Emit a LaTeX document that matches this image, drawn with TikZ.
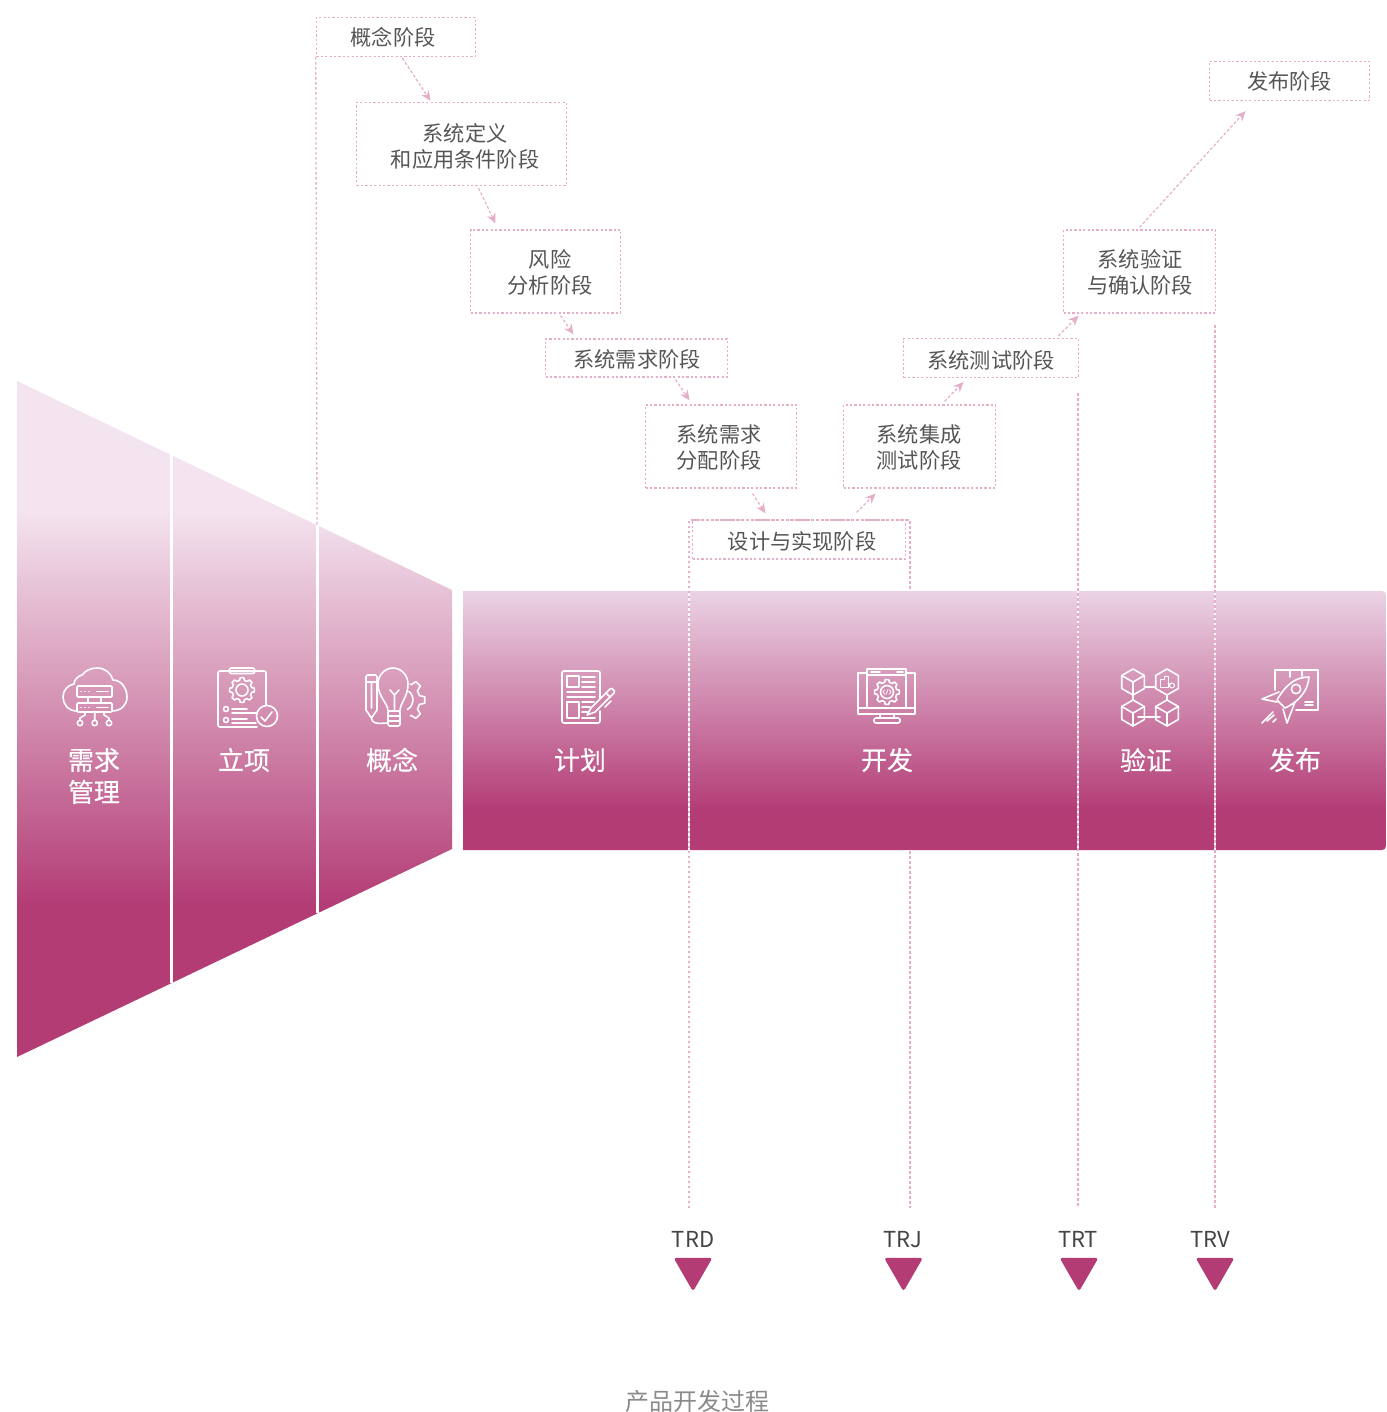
\documentclass[tikz,border=0pt]{standalone}
\usepackage{fontspec}
\setmainfont{Noto Sans CJK SC}
\newfontfamily\phasefont[FakeBold=0.35]{Noto Sans CJK SC}
\usetikzlibrary{arrows.meta,shapes.geometric}
\definecolor{dashc}{HTML}{E5AFC9}
\definecolor{dark}{HTML}{B33C75}
\definecolor{txt}{HTML}{555555}
\definecolor{trtxt}{HTML}{444444}
\definecolor{capt}{HTML}{8A8A8A}
\definecolor{flight}{HTML}{F4E4EF}
\definecolor{blight}{HTML}{EBD3E5}
\pgfdeclareverticalshading{funnelsh}{100bp}{color(0bp)=(dark); color(36.24bp)=(dark); color(65.46bp)=(flight); color(100bp)=(flight)}
\pgfdeclareverticalshading{barsh}{100bp}{color(0bp)=(dark); color(32.7bp)=(dark); color(75bp)=(blight); color(100bp)=(blight)}
\tikzset{
  dbox/.style={draw=dashc,line width=1.2pt,dash pattern=on 2.2pt off 2.2pt,inner sep=0pt},
  boxtext/.style={text=txt,font=\fontsize{21.2}{26}\selectfont,align=center,inner sep=0pt},
  phase/.style={text=white,font=\phasefont\fontsize{26}{32}\selectfont,align=center,inner sep=0pt},
  conn/.style={draw=dashc,line width=1.2pt,dash pattern=on 3pt off 2pt,-{Stealth[length=10pt,width=9pt]}},
  guide/.style={draw=dashc,line width=1.3pt,dash pattern=on 2.5pt off 2.5pt},
  gapline/.style={draw=white,line width=2.6pt},
  sepline/.style={draw=white,line width=3pt},
  icn/.style={draw=white,line width=1.6pt,line join=round,line cap=round},
  tri/.style={regular polygon,regular polygon sides=3,shape border rotate=180,minimum size=45pt,inner sep=0pt,fill=dark,rounded corners=3pt},
  trlabel/.style={text=trtxt,font=\fontsize{22}{26}\selectfont,inner sep=0pt,anchor=base},
  captext/.style={text=capt,font=\fontsize{24}{28}\selectfont,inner sep=0pt}
}
\newcommand{\geardraw}[4]{%
  \begin{scope}[shift={(#1,#2)}]
    \draw[icn] (-14:#4) \foreach \a in {0,45,...,315} {-- (\a-14:#4) -- (\a-8:#3) -- (\a+8:#3) -- (\a+14:#4)} -- cycle;
  \end{scope}}
\begin{document}
\begin{tikzpicture}[x=1pt,y=-1pt]
\useasboundingbox (0,0) rectangle (1386,1412);
% funnel and bar
\path[shading=funnelsh] (17,381) -- (452,590) -- (452,849) -- (17,1057) -- cycle;
\path[shading=barsh] (463,591) -- (1382,591) [rounded corners=4pt] -- (1386,591) -- (1386,850) [sharp corners] -- (463,850) -- cycle;
\coordinate (fa) at (171,455); \coordinate (fb) at (171,983);
\coordinate (fc) at (317,525); \coordinate (fd) at (317,913);
\draw[sepline] (fa) -- (fb);
\draw[sepline] (fc) -- (fd);
% boxes
\node[dbox,minimum width=159pt,minimum height=39pt] (concept) at (395.9,37) {};
\node[dbox,minimum width=210pt,minimum height=83pt] (sysdef) at (461.5,144) {};
\node[dbox,minimum width=150pt,minimum height=83pt] (risk) at (545.5,271.5) {};
\node[dbox,minimum width=182pt,minimum height=38pt] (sysreq) at (636.5,358) {};
\node[dbox,minimum width=151pt,minimum height=83pt] (alloc) at (721,446.5) {};
\node[dbox,minimum width=213pt,minimum height=39pt] (design) at (799,539.5) {};
\node[dbox,minimum width=152pt,minimum height=83pt] (integ) at (919.5,446.5) {};
\node[dbox,minimum width=175pt,minimum height=39pt] (systest) at (991,358) {};
\node[dbox,minimum width=152pt,minimum height=83pt] (valid) at (1139.5,271.5) {};
\node[dbox,minimum width=160pt,minimum height=39pt] (release) at (1289.5,81) {};
\node[boxtext] (tconcept) at (393,37) {概念阶段};
\node[boxtext] (tsysdef) at (465,146) {系统定义\\和应用条件阶段};
\node[boxtext] (trisk) at (550,272) {风险\\分析阶段};
\node[boxtext] (tsysreq) at (637,359) {系统需求阶段};
\node[boxtext] (talloc) at (719,447.5) {系统需求\\分配阶段};
\node[boxtext] (tdesign) at (802,541) {设计与实现阶段};
\node[boxtext] (tinteg) at (919,447.5) {系统集成\\测试阶段};
\node[boxtext] (tsystest) at (991,360) {系统测试阶段};
\node[boxtext] (tvalid) at (1140,272) {系统验证\\与确认阶段};
\node[boxtext] (trelease) at (1289.5,81) {发布阶段};
% connectors
\draw[conn] ([shift={(6.5,1)}]concept.south) -- ([shift={(-31,-1)}]sysdef.north);
\draw[conn] ([shift={(17,2)}]sysdef.south) -- ([shift={(-50,-6)}]risk.north);
\draw[conn] ([shift={(15,2)}]risk.south) -- ([shift={(-63,-4)}]sysreq.north);
\draw[conn] ([shift={(39,2)}]sysreq.south) -- ([shift={(-31.5,-4)}]alloc.north);
\draw[conn] ([shift={(31.5,5)}]alloc.south) -- ([shift={(-33.5,-6)}]design.north);
\draw[conn] ([shift={(57.5,-7)}]design.north) -- ([shift={(-44,5)}]integ.south);
\draw[conn] ([shift={(25,-3)}]integ.north) -- ([shift={(-27.5,4)}]systest.south);
\draw[conn] ([shift={(67.5,-2)}]systest.north) -- ([shift={(-61,2)}]valid.south);
\draw[conn] ([shift={(0,-2)}]valid.north) -- ([shift={(-44,10)}]release.south);
% guides
\coordinate (g1t) at (689,520); \coordinate (g1a) at (689,591); \coordinate (g1b) at (689,850); \coordinate (g1e) at (689,1208);
\coordinate (g2t) at (910,520); \coordinate (g2a) at (910,590); \coordinate (g2b) at (910,851); \coordinate (g2e) at (910,1208);
\coordinate (g3t) at (1078,393); \coordinate (g3a) at (1078,591); \coordinate (g3b) at (1078,850); \coordinate (g3e) at (1078,1208);
\coordinate (g4t) at (1215,325); \coordinate (g4a) at (1215,591); \coordinate (g4b) at (1215,850); \coordinate (g4e) at (1215,1208);
\draw[gapline] (g1a) -- (g1b);
\draw[gapline] (g3a) -- (g3b);
\draw[gapline] (g4a) -- (g4b);
\draw[guide] (concept.south west) -- (fc);
\draw[guide] (g1e) -- (g1t) -- (g2t) -- (g2a);
\draw[guide] (g2b) -- (g2e);
\draw[guide] (g3t) -- (g3e);
\draw[guide] (g4t) -- (g4e);
% phase labels
\node[phase] (p1) at (94,776) {需求\\管理};
\node[phase] (p2) at (244,760) {立项};
\node[phase] (p3) at (392,760) {概念};
\node[phase] (p4) at (580,760) {计划};
\node[phase] (p5) at (887,760) {开发};
\node[phase] (p6) at (1146,760) {验证};
\node[phase] (p7) at (1295,760) {发布};
% icon 1: cloud and servers
\draw[icn] (77,711) .. controls (68,711) and (63,704) .. (63,697) .. controls (63,690) and (68,685) .. (74,684) .. controls (74,680) and (78,676) .. (82,675) .. controls (85,671) and (90,668) .. (97,668) .. controls (105,668) and (111,673) .. (113,680) .. controls (121,680) and (127,688) .. (127,697) .. controls (127,705) and (121,711) .. (112,711);
\draw[icn,rounded corners=1pt] (77,686) rectangle (112,697);
\draw[icn,rounded corners=1pt] (77,703) rectangle (112,712);
\draw[icn] (88,697) -- (88,703) (101,697) -- (101,703);
\draw[icn] (81,691.5) -- (81.2,691.5) (85,691.5) -- (85.2,691.5) (89,691.5) -- (89.2,691.5) (97,691.5) -- (108,691.5);
\draw[icn] (81,707.5) -- (81.2,707.5) (85,707.5) -- (85.2,707.5) (89,707.5) -- (89.2,707.5) (97,707.5) -- (108,707.5);
\draw[icn] (94.7,712) -- (94.7,720) (85,712) -- (85,715) -- (80,718) -- (80,720) (104,712) -- (104,715) -- (109,718) -- (109,720);
\draw[icn] (80,723) circle (2.7) (94.7,723) circle (2.7) (109,723) circle (2.7);
% icon 2: clipboard
\draw[icn,rounded corners=2pt] (257,727) -- (218,727) -- (218,671) -- (266,671) -- (266,705);
\draw[icn,fill=none,rounded corners=2.5pt] (229,668) rectangle (255,673.5);
\geardraw{242}{690}{12.5}{10}
\draw[icn] (242,690) circle (6);
\draw[icn] (226,709) circle (2.5) (226,720) circle (2.5);
\draw[icn] (232,709) -- (247,709) (232,713) -- (256,713) (232,719) -- (247,719) (232,723) -- (256,723);
\draw[icn] (267,716) circle (10.5);
\draw[icn] (261,717) -- (265,721) -- (272,712);
% icon 3: bulb, pencil, gear
\draw[icn] (388,711) .. controls (388,703) and (378,697) .. (378,684) .. controls (378,675) and (385,668) .. (393,668) .. controls (401,668) and (408,675) .. (408,684) .. controls (408,697) and (400,703) .. (400,711);
\draw[icn,rounded corners=1.5pt] (388,711) rectangle (400,726);
\draw[icn] (388,716) -- (400,716) (388,721) -- (400,721);
\draw[icn] (390,690) -- (394.5,695) -- (399,690) (394.5,695) -- (394.5,711);
\draw[icn,rounded corners=1.5pt] (366,710) -- (366,675) -- (377,675) -- (377,710);
\draw[icn] (366,682) -- (377,682) (371.5,682) -- (371.5,708) (366,710) -- (371.5,718) -- (377,710);
\draw[icn] (371.5,718) .. controls (372,723) and (375,724) .. (388,723);
\begin{scope}[shift={(402,700)}]
  \draw[icn] (-62:18) \foreach \a in {-45,0,45} {-- (\a-14:18) -- (\a-8:23) -- (\a+8:23) -- (\a+14:18)} -- (62:18);
  \draw[icn] (-52:11) arc (-52:60:11);
\end{scope}
% icon 4: plan
\draw[icn,rounded corners=2pt] (600,698) -- (600,671) -- (562,671) -- (562,723) -- (600,723) -- (600,711);
\draw[icn] (567,676) rectangle (579,687);
\draw[icn] (582,677) -- (595,677) (582,682) -- (595,682) (582,687) -- (595,687) (567,692) -- (595,692) (567,697) -- (595,697);
\draw[icn] (567,702) rectangle (579,718);
\draw[icn] (582,702) -- (594,702) (582,707) -- (590,707) (582,712) -- (588,712) (582,718) -- (595,718);
\draw[icn] (587,715) -- (591,708) -- (610,689) -- (612,688.5) -- (614.5,691) -- (614,693) -- (595,712) -- cycle;
\draw[icn] (606,693) -- (610.5,697.5) (605,707) -- (611,701);
% icon 5: monitor
\draw[icn] (867,673) -- (858,673) -- (858,714) -- (915,714) -- (915,673) -- (906,673);
\draw[icn] (858,708) -- (915,708);
\draw[icn] (867,708) -- (867,669) -- (906,669) -- (906,708);
\draw[icn] (867,675) -- (906,675);
\draw[icn] (871,672) -- (880,672) (897,672) -- (903,672);
\geardraw{887}{692}{12.5}{10}
\draw[icn] (887,692) circle (6.5);
\draw[icn,line width=.8pt] (884.5,690) -- (883,692) -- (884.5,694) (889.5,690) -- (891,692) -- (889.5,694) (888,689.5) -- (886,694.5);
\draw[icn] (880,714) -- (880,718) (894,714) -- (894,718);
\draw[icn,rounded corners=2pt] (874,723) -- (874,718) -- (900,718) -- (900,723) -- cycle;
% icon 6: cubes
\foreach \cx/\cy/\nm in {1133/682/a,1133/713/b,1167/713/c}{
  \begin{scope}[shift={(\cx,\cy)}]
    \draw[icn] (0,-13) -- (11.3,-6.5) -- (11.3,6.5) -- (0,13) -- (-11.3,6.5) -- (-11.3,-6.5) -- cycle;
    \draw[icn] (-11.3,-6.5) -- (0,0) -- (11.3,-6.5) (0,0) -- (0,13);
  \end{scope}}
\begin{scope}[shift={(1167,682)}]
  \draw[icn] (0,-13) -- (11.3,-6.5) -- (11.3,6.5) -- (0,13) -- (-11.3,6.5) -- (-11.3,-6.5) -- cycle;
  \draw[icn,line width=1pt] (-7,5) -- (-7,-3) -- (-3,-3) -- (-3,-6) -- (1,-6) -- (1,5) -- cycle (1,1) -- (4,1);
  \draw[icn,line width=1pt] (5,3.5) circle (2.5);
\end{scope}
\draw[icn] (1145,687) -- (1155,687) (1138,717) -- (1160,717);
\draw[icn] (1133,695) -- (1133,700) (1167,695) -- (1167,700);
% icon 7: rocket
\draw[icn] (1275,690) -- (1275,670) -- (1318,670) -- (1318,710) -- (1296,710);
\draw[icn] (1290,670) -- (1290,677) (1302,670) -- (1302,676);
\draw[icn] (1309,677) .. controls (1296,677) and (1286,684) .. (1277,700) -- (1285,708) .. controls (1300,701) and (1308,690) .. (1309,677) -- cycle;
\draw[icn] (1296,689) circle (4.7);
\draw[icn] (1279,692) -- (1262,699) -- (1277,702);
\draw[icn] (1295,702) -- (1287,723) -- (1283,709);
\draw[icn] (1262,723) -- (1273,712) (1267,721) -- (1274,715) (1273,722) -- (1276,719);
\draw[icn] (1305,702) -- (1313,702) (1305,705) -- (1313,705);
% TR markers
\node[trlabel] (lrd) at (693,1247) {TRD};
\node[trlabel] (lrj) at (903,1247) {TRJ};
\node[trlabel] (lrt) at (1078,1247) {TRT};
\node[trlabel] (lrv) at (1210,1247) {TRV};
\node[tri] (trd) at (693,1269) {};
\node[tri] (trj) at (903.5,1269) {};
\node[tri] (trt) at (1079,1269) {};
\node[tri] (trv) at (1215,1269) {};
\node[captext] (cap) at (697,1401) {产品开发过程};
\end{tikzpicture}
\end{document}
